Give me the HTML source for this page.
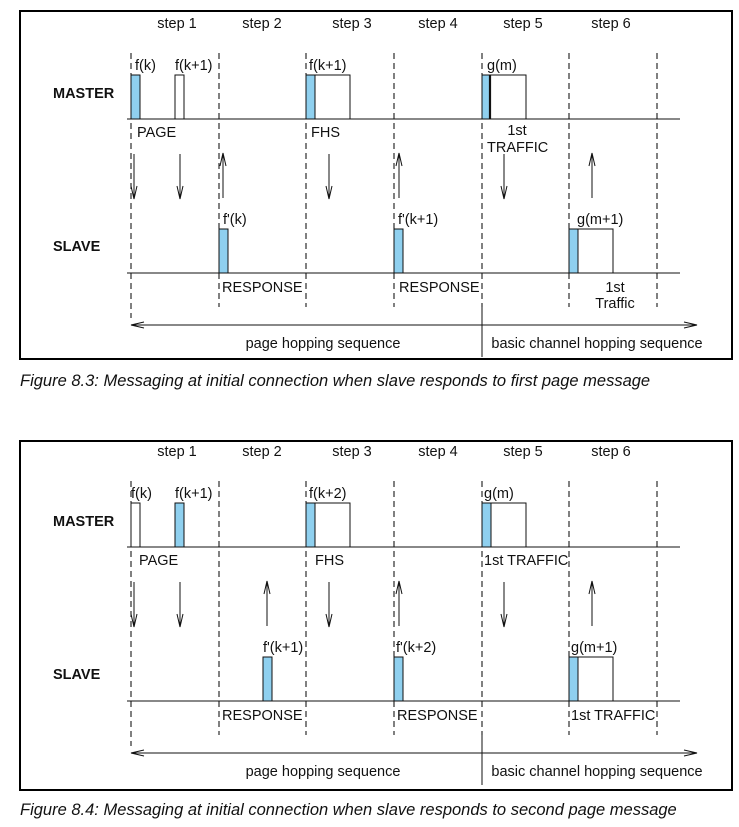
<!DOCTYPE html>
<html><head><meta charset="utf-8"><style>
html,body{margin:0;padding:0;background:#fff;width:739px;height:827px;overflow:hidden}
svg{display:block}
text{font-family:"Liberation Sans",Arial,sans-serif;fill:#111}
</style></head><body>
<svg id="root" width="739" height="827" viewBox="0 0 739 827" xmlns="http://www.w3.org/2000/svg"></svg>
<script>
const NS='http://www.w3.org/2000/svg';
const root=document.getElementById('root');
const slotX=[131,219,306,394,482,569,657];
const stepLabels=['step 1','step 2','step 3','step 4','step 5','step 6'];
const stepCenters=[177,262,352,438,523,611];
const BLUE='#8fd0ef';
const FS=14.5;

function el(tag,attrs,parent,text){
  const e=document.createElementNS(NS,tag);
  for(const k in attrs)e.setAttribute(k,attrs[k]);
  if(text!==undefined)e.textContent=text;
  (parent||root).appendChild(e);return e;
}
function line(g,x1,y1,x2,y2,extra){return el('line',Object.assign({x1,y1,x2,y2,stroke:'#111','stroke-width':1},extra||{}),g);}

const figures=[
 {oy:0,frameTop:11,frameBot:359,
  master:[{x:131,blue:true,w:9,label:'f(k)',lx:135},{x:175,blue:false,w:9,label:'f(k+1)',lx:175},{x:306,blue:true,w:9,ext:35,label:'f(k+1)',lx:309},{x:482,blue:true,w:8,ext:36,thick:true,label:'g(m)',lx:487}],
  slave:[{x:219,w:9,label:"f'(k)",lx:223},{x:394,w:9,label:"f'(k+1)",lx:398},{x:569,w:9,ext:35,label:'g(m+1)',lx:577}],
  mLabels:[{t:'PAGE',x:137,y:137},{t:'FHS',x:311,y:137},{t:'1st',x:517,y:135,a:'middle'},{t:'TRAFFIC',x:487,y:152}],
  sLabels:[{t:'RESPONSE',x:222,y:292},{t:'RESPONSE',x:399,y:292},{t:'1st',x:615,y:292,a:'middle'},{t:'Traffic',x:615,y:308,a:'middle'}],
  down:[134,180,329,504],up:[223,399,592],
  caption:'Figure 8.3:  Messaging at initial connection when slave responds to first page message',capY:386},
 {oy:428,frameTop:441,frameBot:790,
  master:[{x:131,blue:false,w:9,label:'f(k)',lx:131},{x:175,blue:true,w:9,label:'f(k+1)',lx:175},{x:306,blue:true,w:9,ext:35,label:'f(k+2)',lx:309},{x:482,blue:true,w:9,ext:35,label:'g(m)',lx:484}],
  slave:[{x:263,w:9,label:"f'(k+1)",lx:263},{x:394,w:9,label:"f'(k+2)",lx:396},{x:569,w:9,ext:35,label:'g(m+1)',lx:571}],
  mLabels:[{t:'PAGE',x:139,y:137},{t:'FHS',x:315,y:137},{t:'1st TRAFFIC',x:484,y:137}],
  sLabels:[{t:'RESPONSE',x:222,y:292},{t:'RESPONSE',x:397,y:292},{t:'1st TRAFFIC',x:571,y:292}],
  down:[134,180,329,504],up:[267,399,592],
  caption:'Figure 8.4:  Messaging at initial connection when slave responds to second page message',capY:815}
];

figures.forEach((f,fi)=>{
  const g=el('g',{transform:'translate(0,'+f.oy+')'});
  
  
  const ft=f.frameTop-f.oy, fb=f.frameBot-f.oy;
  const fr=el('rect',{x:20,y:ft,width:712,height:fb-ft,fill:'none',stroke:'#000','stroke-width':2},g);
  
  
  stepLabels.forEach((s,i)=>{
    const t=el('text',{x:stepCenters[i],y:28,'font-size':FS,'text-anchor':'middle'},g,s);
    
    
  });
  slotX.forEach((x,i)=>{
    const bottom=(i===0)?318:307;
    const d=line(g,x,53,x,bottom,{'stroke-dasharray':'6,4','stroke':'#000'});
    
    
  });
  const mb=line(g,127,119,680,119);
  const sb=line(g,127,273,680,273);
  const ml=el('text',{x:53,y:98,'font-size':FS,'font-weight':'bold'},g,'MASTER');
  const sl=el('text',{x:53,y:251,'font-size':FS,'font-weight':'bold'},g,'SLAVE');
  function packets(list,base,name){
    list.forEach(p=>{
      if(p.ext){const r=el('rect',{x:p.x+p.w,y:base-44,width:p.ext,height:44,fill:'#fff',stroke:'#111','stroke-width':1},g);}
      const b=el('rect',{x:p.x,y:base-44,width:p.w,height:44,fill:(p.blue===false)?'#fff':BLUE,stroke:'#111','stroke-width':1},g);
      
      
      if(p.thick)line(g,p.x+p.w,base-44,p.x+p.w,base,{'stroke-width':2.2});
      const t=el('text',{x:p.lx,y:base-49,'font-size':FS},g,p.label);
      
      
    });
  }
  packets(f.master,119,'master');
  packets(f.slave,273,'slave');
  f.mLabels.concat(f.sLabels).forEach(l=>{
    const t=el('text',{x:l.x,y:l.y,'font-size':FS,'text-anchor':l.a||'start'},g,l.t);
    
    
  });
  f.down.forEach(x=>{
    line(g,x,154,x,199);
    const a=el('path',{d:`M${x-3},186 L${x},199 L${x+3},186`,fill:'none',stroke:'#111'},g);
    
  });
  f.up.forEach(x=>{
    line(g,x,153,x,198);
    const a=el('path',{d:`M${x-3},166 L${x},153 L${x+3},166`,fill:'none',stroke:'#111'},g);
    
  });
  const ba=line(g,131,325,697,325);
  el('path',{d:'M144,322 L131,325 L144,328',fill:'none',stroke:'#111'},g);
  el('path',{d:'M684,322 L697,325 L684,328',fill:'none',stroke:'#111'},g);
  line(g,482,307,482,357);
  const t1=el('text',{x:323,y:348,'font-size':FS,'text-anchor':'middle'},g,'page hopping sequence');
  
  const t2=el('text',{x:597,y:348,'font-size':FS,'text-anchor':'middle'},g,'basic channel hopping sequence');
  
  const c=el('text',{x:20,y:f.capY,'font-size':16.5,'font-style':'italic'},root,f.caption);
  
  
});
</script>
</body></html>
